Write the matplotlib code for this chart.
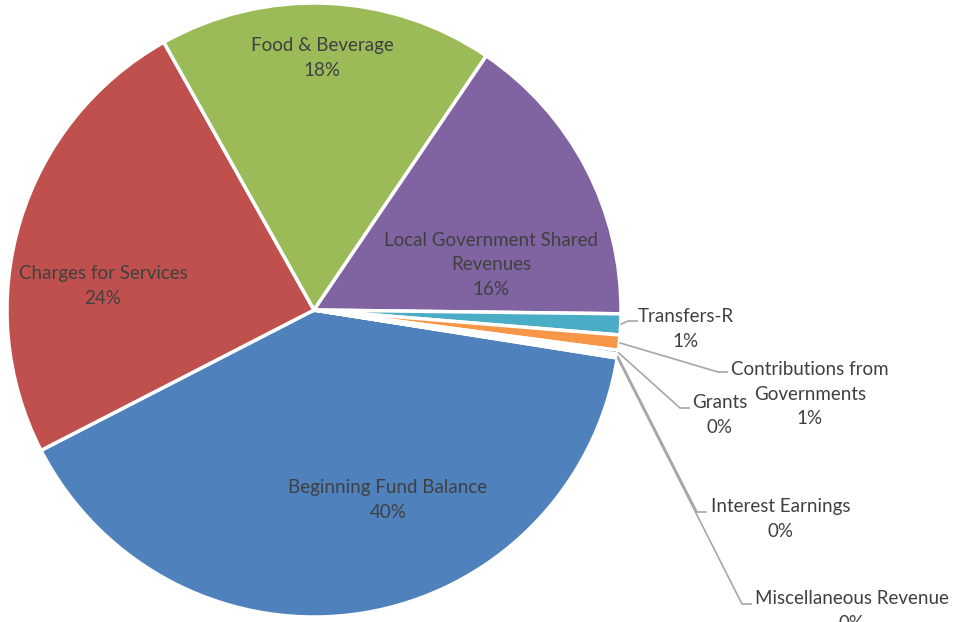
import numpy as np
import matplotlib
matplotlib.use("Agg")
from matplotlib import pyplot as plt

# revenue shares (percent), in Excel's clockwise order
categories = ['Beginning Fund Balance', 'Charges for Services', 'Food & Beverage',
              'Local Government Shared\nRevenues', 'Transfers-R',
              'Contributions from\nGovernments', 'Grants', 'Interest Earnings',
              'Miscellaneous Revenue']
values = [39.9, 24.4, 17.6, 15.7, 1.1, 0.8, 0.2, 0.15, 0.05]
colors = ['#4F81BD', '#C0504D', '#9BBB59', '#8064A2', '#4BACC6', '#F79646',
          '#2C4D75', '#772C2A', '#5F7530']

# label centres in pixels (x, y from top)
label_pos = [(388, 500), (103, 286), (322, 58), (491, 265), (686, 329),
             (810, 394), (720, 415), (781, 519), (852, 611)]
# where the leader line bends (x, y from top); None = label inside the slice
elbow_pos = [None, None, None, None, (628, 321),
             (718, 372), (680, 408), (697, 512), (742, 604)]

W, H = 954, 622
cx, cy, r = 314, H - 310, 307

plt.rcParams['font.family'] = ['Lato', 'DejaVu Sans']
fig = plt.figure(figsize=(W / 100, H / 100), dpi=100)
ax = fig.add_axes([0, 0, 1, 1])

wedges, _ = ax.pie(values, colors=colors, startangle=-9, counterclock=False,
                   center=(cx, cy), radius=r, frame=True,
                   wedgeprops=dict(edgecolor='white', linewidth=2.5))
ax.set_xlim(0, W)
ax.set_ylim(0, H)
ax.set_aspect('equal')
ax.axis('off')

total = sum(values)
txt_color = '#404040'
for w, name, v, pos, elbow in zip(wedges, categories, values, label_pos, elbow_pos):
    text = f"{name}\n{v / total:.0%}"
    x, y = pos[0], H - pos[1]
    ax.text(x, y, text, ha='center', va='center', fontsize=13.5,
            color=txt_color, linespacing=1.55)
    if elbow is None:
        continue
    ang = np.deg2rad((w.theta1 + w.theta2) / 2)
    sx, sy = cx + r * np.cos(ang), cy + r * np.sin(ang)
    ex, ey = elbow[0], H - elbow[1]
    ax.plot([sx, ex, ex + 10], [sy, ey, ey], color='#A6A6A6', lw=1.2,
            solid_capstyle='butt')

fig.savefig('out.png', dpi=100)
